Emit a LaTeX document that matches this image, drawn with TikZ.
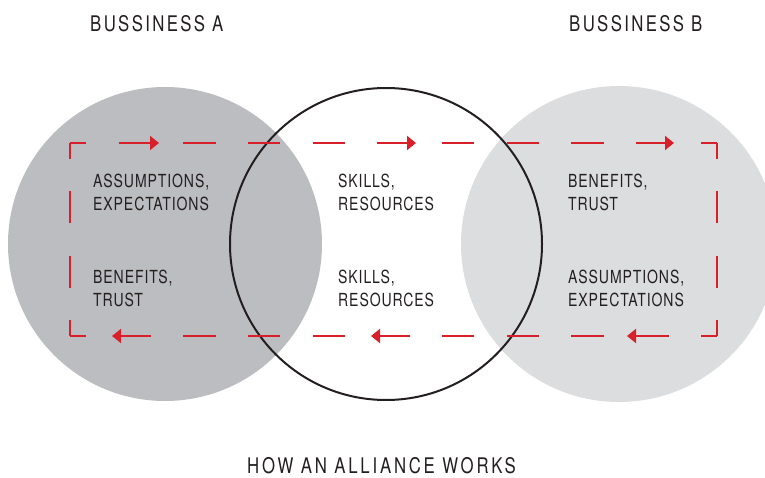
\documentclass[tikz,border=0pt]{standalone}
\usepackage{fontspec}
\setmainfont{TeX Gyre Heros}
\newfontfamily\bodyfont{TeX Gyre Heros}[FakeStretch=0.78,LetterSpace=5]
\newfontfamily\titlefont{TeX Gyre Heros}[FakeStretch=0.78,LetterSpace=11]
\newfontfamily\capfont{TeX Gyre Heros}[FakeStretch=0.78,LetterSpace=13]
\usetikzlibrary{arrows.meta}
\definecolor{redline}{HTML}{D7202A}
\definecolor{grayA}{HTML}{BCBDC0}
\definecolor{grayB}{HTML}{DCDDDF}
\definecolor{ink}{HTML}{231F20}
\tikzset{
  circA/.style={circle,fill=grayA,inner sep=0pt,minimum size=314pt},
  circB/.style={circle,fill=grayB,inner sep=0pt,minimum size=316pt},
  circM/.style={circle,draw=ink,line width=2pt,inner sep=0pt,minimum size=312pt},
  loopH/.style={draw=redline,line width=2pt,dash pattern=on 32.35pt off 32.35pt,dash phase=16.17pt},
  loopV/.style={draw=redline,line width=2pt,dash pattern=on 32.17pt off 32.17pt,dash phase=16.08pt},
  flow/.style={draw=redline,line width=2pt,-{Triangle[width=14pt,length=9pt]}},
  body/.style={text=ink,font=\bodyfont\fontsize{18}{23}\selectfont,align=left,anchor=base west,inner sep=0pt},
  title/.style={text=ink,font=\titlefont\fontsize{21.5}{26}\selectfont,anchor=base west,inner sep=0pt},
  captext/.style={text=ink,font=\capfont\fontsize{21.5}{26}\selectfont,anchor=base west,inner sep=0pt}
}
\begin{document}
\begin{tikzpicture}[x=1pt,y=-1pt]
\useasboundingbox (0,0) rectangle (765,478);
\clip (0,0) rectangle (765,478);
\node[circA] (A) at (165,244) {};
\node[circB] (B) at (619,244) {};
\node[circM] (M) at (386,244) {};
% dashed loop corners
\coordinate (tl) at (70,143);
\coordinate (tr) at (717,143);
\coordinate (br) at (717,336);
\coordinate (bl) at (70,336);
\draw[loopH] (tl) -- (tr);
\draw[loopV] (tr) -- (br);
\draw[loopH] (br) -- (bl);
\draw[loopV] (bl) -- (tl);
% arrows on top (to the right)
\coordinate (t1s) at (118.5,143); \coordinate (t1e) at (159,143);
\coordinate (t5s) at (377.3,143); \coordinate (t5e) at (416,143);
\coordinate (t9s) at (636.1,143); \coordinate (t9e) at (674,143);
\draw[flow] (t1s) -- (t1e);
\draw[flow] (t5s) -- (t5e);
\draw[flow] (t9s) -- (t9e);
% arrows on bottom (to the left)
\coordinate (b1s) at (151,336); \coordinate (b1e) at (112,336);
\coordinate (b5s) at (410,336); \coordinate (b5e) at (371,336);
\coordinate (b9s) at (668.6,336); \coordinate (b9e) at (627,336);
\draw[flow] (b1s) -- (b1e);
\draw[flow] (b5s) -- (b5e);
\draw[flow] (b9s) -- (b9e);
% texts
\node[title] (tA) at (90,32) {BUSSINESS A};
\node[title] (tB) at (569,32) {BUSSINESS B};
\node[body] (a1) at (93,211) {ASSUMPTIONS,\\EXPECTATIONS};
\node[body] (a2) at (93,306) {BENEFITS,\\TRUST};
\node[body] (m1) at (338,211) {SKILLS,\\RESOURCES};
\node[body] (m2) at (338,306) {SKILLS,\\RESOURCES};
\node[body] (b1) at (568,211) {BENEFITS,\\TRUST};
\node[body] (b2) at (568,306) {ASSUMPTIONS,\\EXPECTATIONS};
\node[captext] (cap) at (247,473) {HOW AN ALLIANCE WORKS};
\end{tikzpicture}
\end{document}
